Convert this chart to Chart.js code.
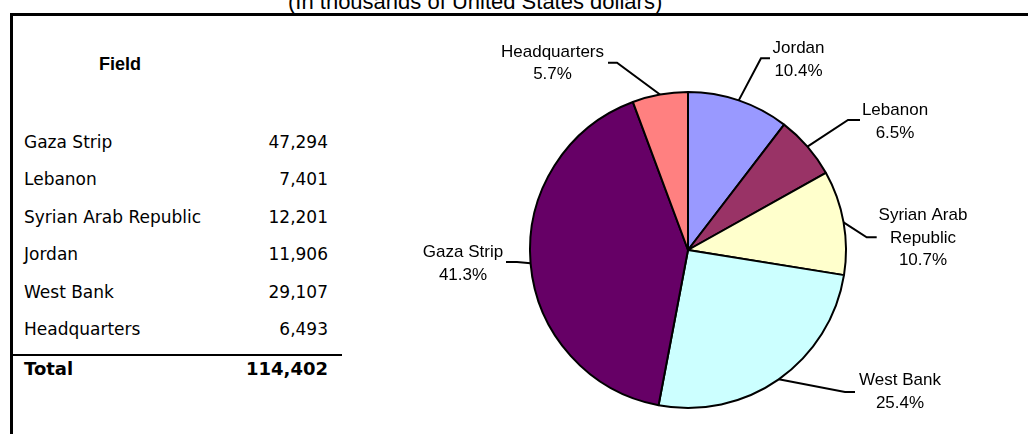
<!DOCTYPE html>
<html><head><meta charset="utf-8">
<script src="https://cdn.jsdelivr.net/npm/chart.js@4.4.1/dist/chart.umd.min.js"></script>
<style>
html,body{margin:0;padding:0;background:#fff;width:1028px;height:434px;overflow:hidden;position:relative;}
#c{position:absolute;left:0;top:0;}
.t{position:absolute;white-space:nowrap;color:#000;}
#title{left:288px;top:-10px;font:22px/24px "Liberation Sans",Arial,sans-serif;}
#frame{position:absolute;left:10px;top:13px;width:1020px;height:430px;border-top:3px solid #000;border-left:3px solid #000;}
#sep{position:absolute;left:10px;top:354px;width:332px;height:2px;background:#000;}
.hdr{font:bold 18px/20px "Liberation Sans",Arial,sans-serif;}
.row{font:17px/20px "DejaVu Sans",Verdana,sans-serif;}
.tot{font:bold 18px/20px "DejaVu Sans",Verdana,sans-serif;}
.num{text-align:right;width:120px;}
</style></head><body>
<div id="title" class="t">(In thousands of United States dollars)</div>
<div id="frame"></div>
<div id="sep"></div>
<div id="table"></div>
<canvas id="c" width="1028" height="434"></canvas>
<script>
// ---- data ----
const tableHeader = 'Field';
const categories = ['Gaza Strip', 'Lebanon', 'Syrian Arab Republic', 'Jordan', 'West Bank', 'Headquarters'];
const amounts = [47294, 7401, 12201, 11906, 29107, 6493];
const totalLabel = 'Total';
const pieOrder = ['Jordan', 'Lebanon', 'Syrian Arab Republic', 'West Bank', 'Gaza Strip', 'Headquarters'];
const pieColors = ['#9999FF', '#993366', '#FFFFCC', '#CCFFFF', '#660066', '#FF8080'];
const pieLabelLines = { 'Syrian Arab Republic': ['Syrian Arab', 'Republic'] };

// ---- table (HTML text) ----
const fmt = v => v.toLocaleString('en-US');
const total = amounts.reduce((a, b) => a + b, 0);
const tbl = document.getElementById('table');
function addText(cls, text, left, baseline, extra) {
  const d = document.createElement('div');
  d.className = 't ' + cls;
  d.textContent = text;
  d.style.left = left + 'px';
  d.style.top = (baseline - 16) + 'px';
  if (extra) Object.assign(d.style, extra);
  tbl.appendChild(d);
}
addText('hdr', tableHeader, 99, 70);
categories.forEach((c, i) => {
  const b = 148 + i * 37.4;
  addText('row', c, 24, b);
  addText('row num', fmt(amounts[i]), 208, b);
});
addText('tot', totalLabel, 24, 375);
addText('tot num', fmt(total), 208, 375);

// ---- pie ----
const pieValues = pieOrder.map(n => amounts[categories.indexOf(n)]);
const labelLayout = {
  'Headquarters':         { elbow: [-71, -187.3], hend: -80,  cx: -135.5, base: -193.3 },
  'Jordan':               { elbow: [73, -191.7],  hend: 82,   cx: 110.5,  base: -197 },
  'Lebanon':              { elbow: [160, -130],   hend: 172,  cx: 207,    base: -135 },
  'Syrian Arab Republic': { elbow: [178.7, -12.7],hend: 188.7,cx: 235,    base: -30 },
  'West Bank':            { elbow: [157, 142],    hend: 167,  cx: 212,    base: 135 },
  'Gaza Strip':           { elbow: [-171, 12],    hend: -182, cx: -225,   base: 7 }
};
const leaderPlugin = {
  id: 'leaders',
  afterDatasetsDraw(chart) {
    const ctx = chart.ctx;
    const meta = chart.getDatasetMeta(0);
    const data = chart.data.datasets[0].data;
    const sum = data.reduce((a, b) => a + b, 0);
    ctx.save();
    meta.data.forEach((arc, i) => {
      const p = arc.getProps(['x', 'y', 'startAngle', 'endAngle', 'outerRadius'], true);
      const name = chart.data.labels[i];
      const L = labelLayout[name];
      const mid = (p.startAngle + p.endAngle) / 2;
      const ex = p.x + Math.cos(mid) * p.outerRadius;
      const ey = p.y + Math.sin(mid) * p.outerRadius;
      ctx.beginPath();
      ctx.moveTo(ex, ey);
      ctx.lineTo(p.x + L.elbow[0], p.y + L.elbow[1]);
      ctx.lineTo(p.x + L.hend, p.y + L.elbow[1]);
      ctx.strokeStyle = '#000';
      ctx.lineWidth = 2;
      ctx.stroke();
      const lines = (pieLabelLines[name] || [name]).concat([(data[i] / sum * 100).toFixed(1) + '%']);
      ctx.fillStyle = '#000';
      ctx.font = '17px "Liberation Sans", Arial, sans-serif';
      ctx.textAlign = 'center';
      ctx.textBaseline = 'alphabetic';
      lines.forEach((t, k) => ctx.fillText(t, p.x + L.cx, p.y + L.base + k * 22.7));
    });
    ctx.restore();
  }
};

new Chart(document.getElementById('c'), {
  type: 'pie',
  data: {
    labels: pieOrder,
    datasets: [{
      data: pieValues,
      backgroundColor: pieColors,
      borderColor: '#000',
      borderWidth: 2
    }]
  },
  options: {
    responsive: false,
    maintainAspectRatio: false,
    animation: false,
    radius: 158,
    layout: { padding: { left: 538, right: 190, top: 100, bottom: 34 } },
    plugins: { legend: { display: false }, tooltip: { enabled: false }, title: { display: false } }
  },
  plugins: [leaderPlugin]
});
</script>
</body></html>
